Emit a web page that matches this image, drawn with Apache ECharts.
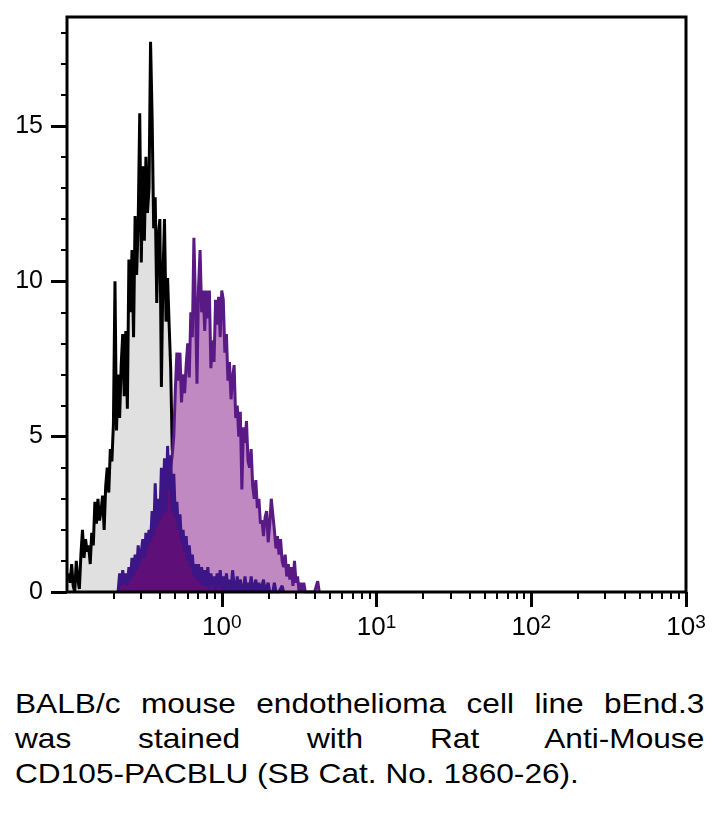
<!DOCTYPE html>
<html>
<head>
<meta charset="utf-8">
<script src="https://cdn.jsdelivr.net/npm/echarts@6/dist/echarts.min.js"></script>
<style>
html,body{margin:0;padding:0;background:#fff;}
#chart{position:absolute;left:0;top:0;width:714px;height:660px;}
#caption{position:absolute;left:15px;top:686px;width:610px;font-family:"Liberation Sans",Arial,sans-serif;font-size:28px;line-height:35px;color:#000;transform:scaleX(1.13);transform-origin:0 0;}
#caption div{white-space:nowrap;}
#caption .j{text-align:justify;text-align-last:justify;}
</style>
</head>
<body>
<div id="chart"></div>
<div id="caption">
<div class="j">BALB/c mouse endothelioma cell line bEnd.3</div>
<div class="j">was stained with Rat Anti-Mouse</div>
<div>CD105-PACBLU (SB Cat. No. 1860-26).</div>
</div>
<script>
// Channel centres (fluorescence intensity, log scale)
const channels = [
0.1023,0.1047,0.1072,0.1096,0.1122,0.1148,0.1175,0.1202,0.1230,0.1259,
0.1288,0.1318,0.1349,0.1380,0.1413,0.1445,0.1479,0.1514,0.1549,0.1585,
0.1622,0.1660,0.1698,0.1738,0.1778,0.1820,0.1862,0.1905,0.1950,0.1995,
0.2042,0.2089,0.2138,0.2188,0.2239,0.2291,0.2344,0.2399,0.2455,0.2512,
0.2570,0.2630,0.2692,0.2754,0.2818,0.2884,0.2951,0.3020,0.3090,0.3162,
0.3236,0.3311,0.3388,0.3467,0.3548,0.3631,0.3715,0.3802,0.3890,0.3981,
0.4074,0.4169,0.4266,0.4365,0.4467,0.4571,0.4677,0.4786,0.4898,0.5012,
0.5129,0.5248,0.5370,0.5495,0.5623,0.5754,0.5888,0.6026,0.6166,0.6310,
0.6457,0.6607,0.6761,0.6918,0.7079,0.7244,0.7413,0.7586,0.7762,0.7943,
0.8128,0.8318,0.8511,0.8710,0.8913,0.9120,0.9333,0.9550,0.9772,
1.000,1.023,1.047,1.072,1.096,1.122,1.148,1.175,1.202,1.230,
1.259,1.288,1.318,1.349,1.380,1.413,1.445,1.479,1.514,1.549,
1.585,1.622,1.660,1.698,1.738,1.778,1.820,1.862,1.905,1.950,
1.995,2.042,2.089,2.138,2.188,2.239,2.291,2.344,2.399,2.455,
2.512,2.570,2.630,2.692,2.754,2.818,2.884,2.951,3.020,3.090,
3.162,3.236,3.311,3.388,3.467,3.548,3.631,3.715,3.802,3.890,
3.981,4.074,4.169,4.266,4.365
];

// Unstained control (black line, grey fill) — starts at channel index 0
const controlFrom = 0;
const controlCounts = [
0.6,0.3,0.9,0.2,0.0,1.0,0.4,0.1,1.2,2.0,
1.1,1.7,1.3,1.5,0.9,1.9,1.5,2.9,2.2,3.0,
2.3,2.6,3.1,2.0,3.4,4.0,3.2,4.6,4.2,5.4,
10.0,5.2,7.0,5.6,7.3,8.3,6.3,8.4,5.9,10.7,
9.0,11.0,8.2,12.1,10.2,11.9,15.4,10.6,13.7,11.3,
14.0,12.2,13.0,17.7,15.3,11.7,12.7,9.3,11.5,12.0,
6.6,10.2,12.0,8.7,10.1,8.6,7.2,4.6,4.0,3.0,
2.2,1.5,1.0,0.6,0.3,0.0
];

// CD105 stained (purple line, orchid fill) — starts at channel index 63
const stainedFrom = 63;
const stainedCounts = [
2.0,3.0,3.5,4.0,4.4,5.0,6.5,7.7,6.8,7.7,
6.1,7.0,6.4,7.3,8.0,6.9,9.0,8.2,11.4,9.3,
6.7,9.8,11.0,9.0,9.7,8.4,9.7,8.8,9.7,7.2,
8.1,7.4,9.4,8.6,9.5,8.2,9.7,9.4,7.7,8.3,
6.8,7.4,6.2,6.9,7.3,5.6,6.0,5.0,5.8,3.3,
5.3,4.8,5.5,4.2,4.0,4.6,3.4,3.0,3.6,2.7,
3.0,2.2,2.3,1.8,2.4,2.6,1.6,2.2,3.0,2.5,
2.0,1.4,1.8,1.2,1.7,1.0,0.8,1.2,0.5,0.9,
0.4,0.8,0.2,1.0,0.3,0.5,0.0,0.3,0.0,0.3,
0.0,0.0,0.0,0.0,0.0,0.0,0.0,0.0,0.35,0.0
];

// Isotype control (dark purple) — starts at channel index 32
const isotypeFrom = 32;
const isotypeCounts = [
0.0,0.6,0.2,0.7,0.3,0.6,0.2,0.8,0.4,1.1,
0.5,1.2,0.7,1.5,0.9,1.3,1.7,1.1,1.9,1.4,
2.0,1.6,2.6,1.8,3.5,2.1,3.0,2.3,4.0,2.5,
4.3,2.6,4.7,3.3,4.4,2.6,3.8,2.4,2.9,2.0,
2.5,1.6,2.0,1.3,1.8,1.0,1.5,0.8,1.2,0.5,
0.9,0.4,0.9,0.3,0.8,0.2,0.7,0.2,0.8,0.1,
0.6,0.2,0.5,0.0,0.6,0.2,0.7,0.1,0.5,0.0,
0.6,0.1,0.4,0.0,0.7,0.2,0.0,0.5,0.0,0.4,
0.1,0.0,0.5,0.0,0.3,0.0,0.5,0.0,0.0,0.4,
0.0,0.3,0.0,0.0,0.4,0.0,0.0,0.3,0.0,0.0,
0.0,0.3,0.0,0.0,0.0,0.0,0.2,0.0
];

// Axis ticks
const yMajorTicks = [0, 5, 10, 15];
const yMinorTicks = [1,2,3,4,6,7,8,9,11,12,13,14,16,17,18];
const xDecadeExponents = [0, 1, 2, 3];
const xMinorMultipliers = [2,3,4,5,6,7,8,9];
const xMinorDecades = [-1, 0, 1, 2];

function toPairs(from, counts) {
  return counts.map((c, i) => [channels[from + i], c]);
}

const xMinorLog = [];
xMinorDecades.forEach(d => xMinorMultipliers.forEach(m => xMinorLog.push(Math.log10(m * Math.pow(10, d)))));

const FONT = '"Liberation Sans", Arial, sans-serif';
const hiddenLine = {show: false, onZero: false};
const chart = echarts.init(document.getElementById('chart'), null, {renderer: 'canvas'});
chart.setOption({
  animation: false,
  backgroundColor: '#fff',
  grid: {left: 67, right: 28, top: 17, bottom: 68, show: true, borderColor: '#000', borderWidth: 3, backgroundColor: 'transparent', z: 5},
  xAxis: [
    {type: 'log', logBase: 10, min: 0.1, max: 1000, position: 'bottom', offset: 0,
     axisLine: hiddenLine, axisTick: {show: false}, axisLabel: {show: false}, splitLine: {show: false}},
    {type: 'value', min: -1, max: 3, position: 'bottom', offset: 0,
     axisLine: hiddenLine, splitLine: {show: false},
     axisTick: {show: true, customValues: xDecadeExponents, length: 15, lineStyle: {color: '#000', width: 3}},
     axisLabel: {show: true, customValues: xDecadeExponents, margin: 21,
       formatter: v => '{b|10}{s|' + v + '}',
       rich: {
         b: {fontSize: 26, fontFamily: FONT, color: '#000', lineHeight: 28, verticalAlign: 'bottom'},
         s: {fontSize: 19, fontFamily: FONT, color: '#000', lineHeight: 19, verticalAlign: 'top'}
       }}},
    {type: 'value', min: -1, max: 3, position: 'bottom', offset: 0,
     axisLine: hiddenLine, splitLine: {show: false},
     axisLabel: {show: true, customValues: [], formatter: () => ''},
     axisTick: {show: true, customValues: xMinorLog, length: 7, lineStyle: {color: '#000', width: 2}}}
  ],
  yAxis: [
    {type: 'value', min: 0, max: 18.5, position: 'left', offset: 0,
     axisLine: hiddenLine, splitLine: {show: false},
     axisTick: {show: true, customValues: yMajorTicks, length: 16, lineStyle: {color: '#000', width: 3}},
     axisLabel: {show: true, customValues: yMajorTicks, margin: 24, fontSize: 25, fontFamily: FONT, color: '#000'}},
    {type: 'value', min: 0, max: 18.5, position: 'left', offset: 0,
     axisLine: hiddenLine, splitLine: {show: false},
     axisLabel: {show: true, customValues: [], formatter: () => ''},
     axisTick: {show: true, customValues: yMinorTicks, length: 6, lineStyle: {color: '#000', width: 2}}}
  ],
  series: [
    {name: 'Control', type: 'line', xAxisIndex: 0, yAxisIndex: 0, data: toPairs(controlFrom, controlCounts),
     showSymbol: false, symbol: 'none', lineStyle: {color: '#000', width: 3}, areaStyle: {color: '#e0e0e0', opacity: 1}, z: 2},
    {name: 'CD105', type: 'line', xAxisIndex: 0, yAxisIndex: 0, data: toPairs(stainedFrom, stainedCounts),
     showSymbol: false, symbol: 'none', lineStyle: {color: '#5a1a86', width: 3}, areaStyle: {color: '#c189c1', opacity: 1}, z: 3},
    {name: 'Isotype', type: 'line', xAxisIndex: 0, yAxisIndex: 0, data: toPairs(isotypeFrom, isotypeCounts),
     showSymbol: false, symbol: 'none', lineStyle: {color: '#3c1586', width: 3}, areaStyle: {color: '#5e0f78', opacity: 1}, z: 4}
  ]
});
</script>
</body>
</html>
